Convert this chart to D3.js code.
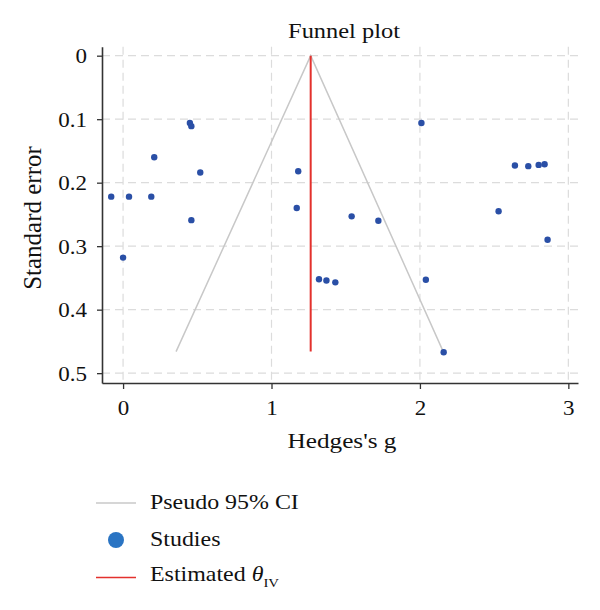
<!DOCTYPE html>
<html>
<head>
<meta charset="utf-8">
<script src="https://cdn.jsdelivr.net/npm/d3@7"></script>
<style>
  body { margin: 0; background: #fff; }
  svg text { font-family: "Liberation Serif", "DejaVu Serif", serif; fill: #111; }
</style>
</head>
<body>
<svg id="drawing_region"></svg>
<script>
// study effects (Hedges's g) and standard errors
const hedgesG = [-0.08, 0.04, 0.19, 0.21, 0.45, 0.46, 0.52, 0.46, 0.0, 1.18,
  1.17, 1.32, 1.37, 1.43, 1.54, 1.72, 2.01, 2.04, 2.16, 2.53,
  2.64, 2.73, 2.80, 2.84, 2.86];
const stdErr = [0.222, 0.222, 0.222, 0.160, 0.106, 0.111, 0.184, 0.259, 0.318, 0.182,
  0.240, 0.352, 0.354, 0.357, 0.253, 0.260, 0.106, 0.353, 0.467, 0.245,
  0.173, 0.174, 0.172, 0.171, 0.290];

// pseudo 95% CI funnel (left end, apex, right end)
const funnelG = [0.357, 1.264, 2.157];
const funnelSE = [0.466, 0, 0.466];

// estimated theta line
const thetaG = [1.264, 1.264];
const thetaSE = [0, 0.466];

const xTicks = [0, 1, 2, 3];
const yTicks = [0, 0.1, 0.2, 0.3, 0.4, 0.5];

const width = 600, height = 610;
const svg = d3.select("#drawing_region").attr("width", width).attr("height", height);

const xscale = d3.scaleLinear().domain([-0.142, 3.065]).range([102, 578]);
const yscale = d3.scaleLinear().domain([-0.014, 0.5155]).range([46.8, 383]);

// text in the reference is a little wide, so stretch it sideways
function label(x, y, size, sx, str, anchor) {
  return svg.append("text")
    .attr("transform", `translate(${x},${y}) scale(${sx},1)`)
    .attr("text-anchor", anchor || "start")
    .attr("font-size", size)
    .text(str);
}

// grid
const grid = svg.append("g");
grid.selectAll("line.h").data(yTicks).join("line")
  .attr("x1", 102).attr("x2", 578)
  .attr("y1", d => yscale(d)).attr("y2", d => yscale(d))
  .attr("stroke", "#dcdcdc").attr("stroke-width", 1.2).attr("stroke-dasharray", "8,5");
grid.selectAll("line.v").data(xTicks).join("line")
  .attr("y1", 46.8).attr("y2", 383)
  .attr("x1", d => xscale(d)).attr("x2", d => xscale(d))
  .attr("stroke", "#dcdcdc").attr("stroke-width", 1.2).attr("stroke-dasharray", "8,5");

// axes
const xaxis = d3.axisBottom(xscale).tickValues(xTicks).tickFormat(d3.format("d"))
  .tickSizeInner(6).tickSizeOuter(0).tickPadding(12);
const xg = svg.append("g").attr("transform", "translate(0,383)").call(xaxis);
const yaxis = d3.axisLeft(yscale).tickValues(yTicks).tickFormat(d => d === 0 ? "0" : d3.format(".1f")(d))
  .tickSizeInner(5).tickSizeOuter(0).tickPadding(0);
const yg = svg.append("g").attr("transform", "translate(102,0)").call(yaxis);

[xg, yg].forEach(g => {
  g.select(".domain").attr("stroke", "#333").attr("stroke-width", 1.6);
  g.selectAll(".tick line").attr("stroke", "#333").attr("stroke-width", 1.3);
  g.selectAll(".tick text").attr("font-size", 20).attr("fill", "#111")
    .attr("font-family", "Liberation Serif, serif");
});
xg.selectAll(".tick text").attr("transform", "scale(1.15,1)");
yg.selectAll(".tick text").attr("dy", "0.35em").attr("x", 0)
  .attr("transform", "translate(-15,0) scale(1.15,1)");

// funnel
const line = d3.line().x(d => xscale(d[0])).y(d => yscale(d[1]));
svg.append("path")
  .datum(funnelG.map((g, i) => [g, funnelSE[i]]))
  .attr("d", line).attr("fill", "none")
  .attr("stroke", "#c8c8c8").attr("stroke-width", 1.5);

svg.append("path")
  .datum(thetaG.map((g, i) => [g, thetaSE[i]]))
  .attr("d", line).attr("fill", "none")
  .attr("stroke", "#e3312d").attr("stroke-width", 2);

// studies
svg.append("g").selectAll("circle")
  .data(hedgesG.map((g, i) => ({ g: g, se: stdErr[i] })))
  .join("circle")
  .attr("cx", d => xscale(d.g))
  .attr("cy", d => yscale(d.se))
  .attr("r", 3.2)
  .attr("fill", "#2a4fa6");

// titles
label(344, 38, 22, 1.11, "Funnel plot", "middle");
label(342, 448, 21, 1.2, "Hedges's g", "middle");
svg.append("text").attr("transform", "translate(41,218) rotate(-90)")
  .attr("text-anchor", "middle").attr("font-size", 25).text("Standard error");

// legend
svg.append("line").attr("x1", 96).attr("x2", 136).attr("y1", 503).attr("y2", 503)
  .attr("stroke", "#c8c8c8").attr("stroke-width", 1.5);
label(150, 509, 21, 1.14, "Pseudo 95% CI");
svg.append("circle").attr("cx", 116).attr("cy", 540).attr("r", 8).attr("fill", "#2a74c3");
label(150, 546, 21, 1.14, "Studies");
svg.append("line").attr("x1", 96).attr("x2", 136).attr("y1", 577.5).attr("y2", 577.5)
  .attr("stroke", "#e3312d").attr("stroke-width", 1.5);
const est = label(150, 581, 21, 1.14, "");
est.append("tspan").text("Estimated ");
est.append("tspan").attr("font-style", "italic").text("θ");
est.append("tspan").attr("font-size", 13).attr("dy", 6).text("IV");
</script>
</body>
</html>
